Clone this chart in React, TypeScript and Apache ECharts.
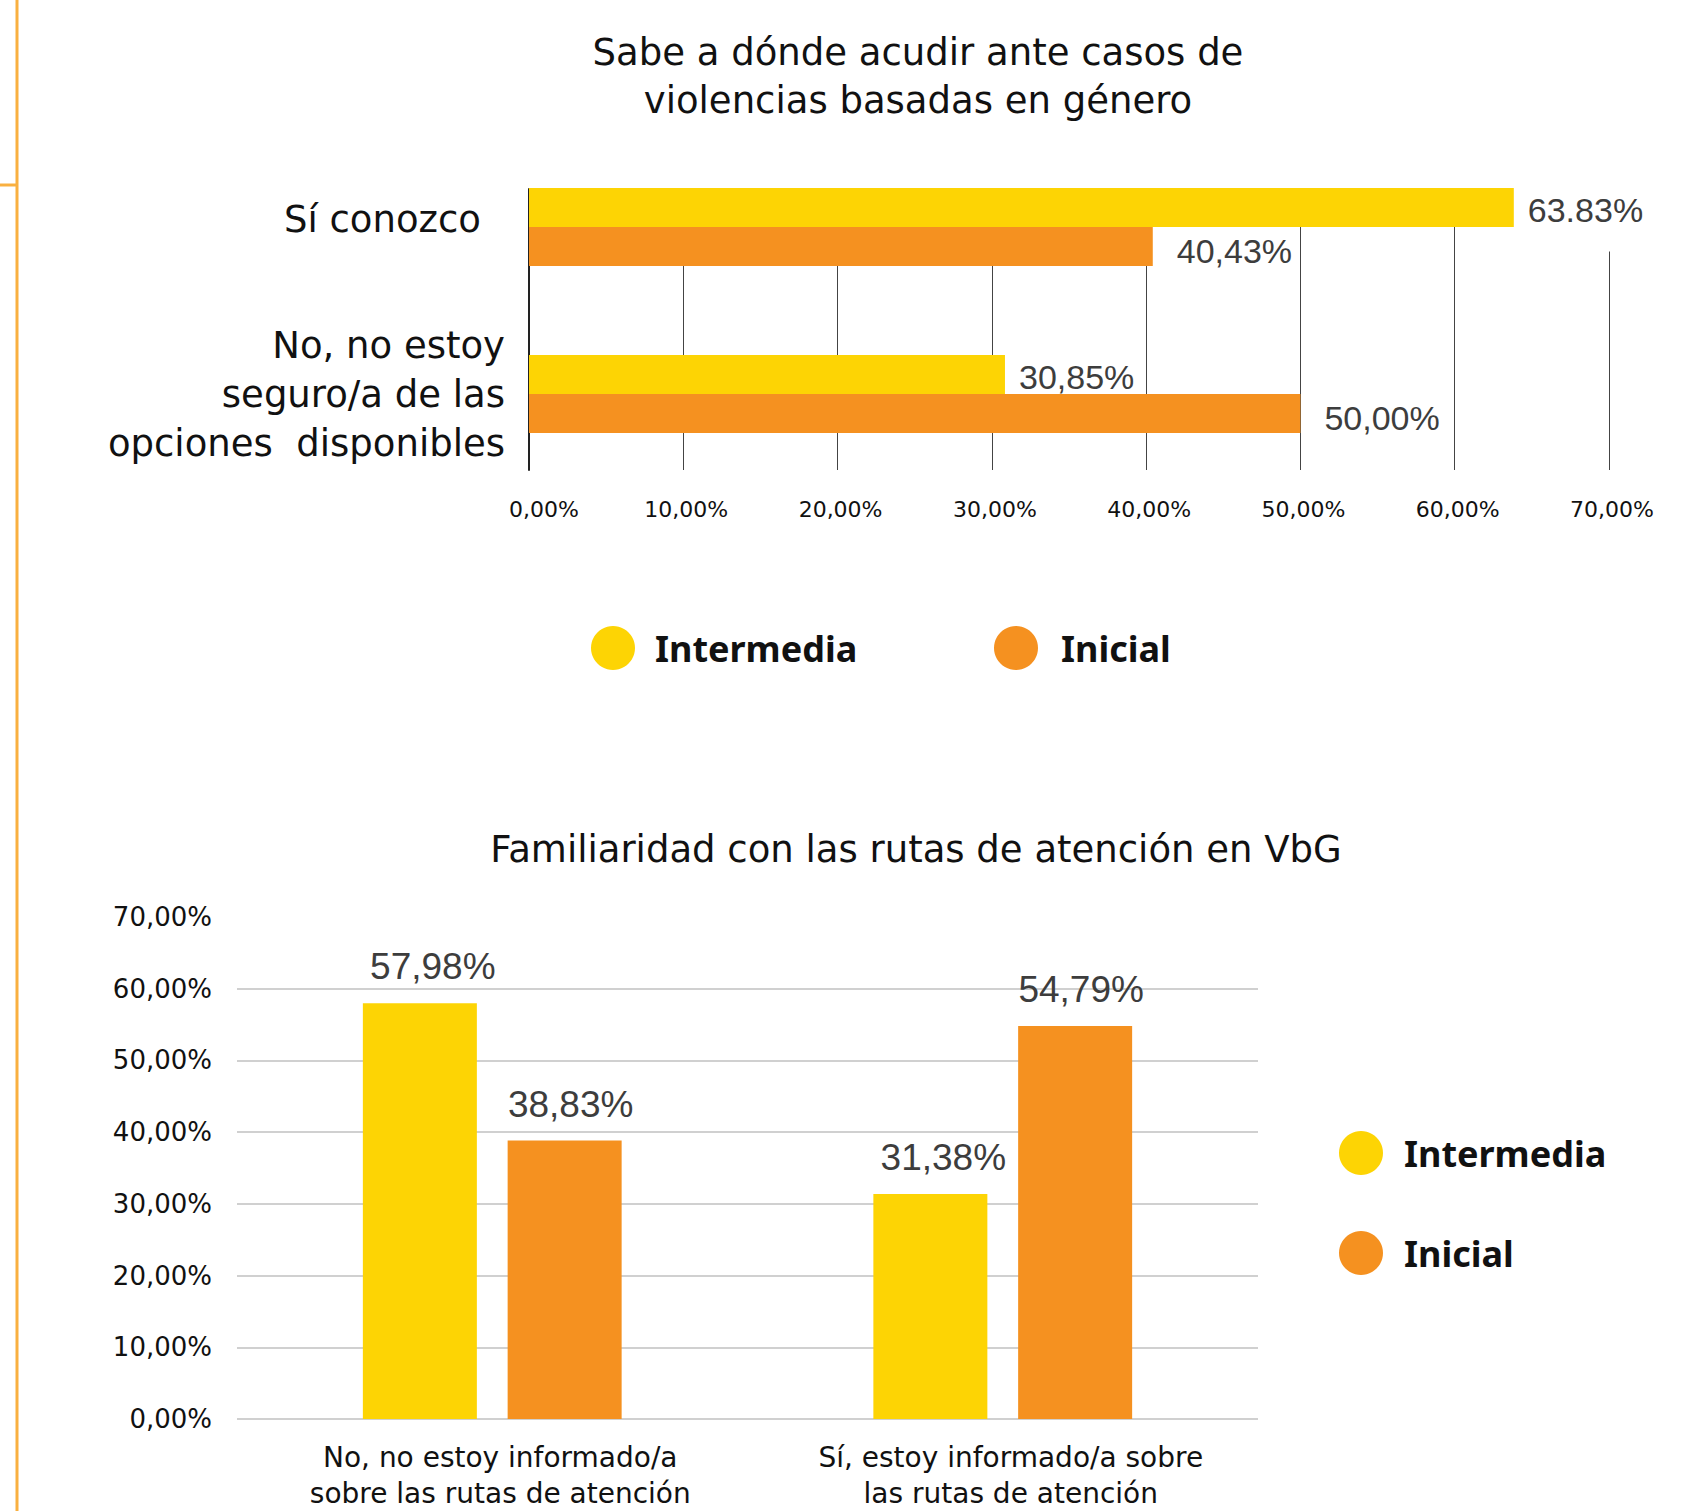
import React, { useEffect, useRef } from "react";
import * as echarts from "echarts";

const seriesNames = ["Intermedia", "Inicial"];

const title1 = "Sabe a dónde acudir ante casos de\nviolencias basadas en género";
const title2 = "Familiaridad con las rutas de atención en VbG";

const c1Categories = ["Sí conozco", "No, no estoy\nseguro/a de las\nopciones  disponibles"];
const c1Intermedia = [63.83, 30.85];
const c1Inicial = [40.43, 50.0];
const c1IntermediaLabels = ["63.83%", "30,85%"];
const c1InicialLabels = ["40,43%", "50,00%"];

const c2Categories = [
  "No, no estoy informado/a\nsobre las rutas de atención",
  "Sí, estoy informado/a sobre\nlas rutas de atención",
];
const c2Intermedia = [57.98, 31.38];
const c2Inicial = [38.83, 54.79];

const axisMin = 0;
const axisMax = 70;
const axisStep = 10;

const YELLOW = "#FDD404";
const ORANGE = "#F59120";
const FONT = "'DejaVu Sans', sans-serif";
const BOLD_FONT = "'Noto Sans', sans-serif";
const VALUE_FONT = "'Liberation Sans', Arial, sans-serif";

const pct = (v: number) => v.toFixed(2).replace(".", ",") + "%";

export default function App() {
  const ref = useRef<HTMLDivElement>(null);

  useEffect(() => {
    if (!ref.current) return;
    const chart = echarts.init(ref.current, undefined, { renderer: "svg" });

    const legendText = { fontSize: 36, fontWeight: "bold", color: "#111", fontFamily: BOLD_FONT };

    const option: any = {
      animation: false,
      backgroundColor: "#ffffff",
      textStyle: { fontFamily: FONT },
      graphic: [
        { type: "line", shape: { x1: 17, y1: 0, x2: 17, y2: 1511 }, style: { stroke: "#F9B040", lineWidth: 3 } },
        { type: "line", shape: { x1: 0, y1: 185, x2: 17, y2: 185 }, style: { stroke: "#F9B040", lineWidth: 3 } },
        {
          type: "text",
          x: 918,
          y: 76,
          style: {
            text: title1,
            fontSize: 37,
            lineHeight: 48,
            fontFamily: FONT,
            fill: "#111111",
            textAlign: "center",
            textVerticalAlign: "middle",
          },
        },
        {
          type: "text",
          x: 916,
          y: 849,
          style: {
            text: title2,
            fontSize: 37,
            fontFamily: FONT,
            fill: "#111111",
            textAlign: "center",
            textVerticalAlign: "middle",
          },
        },
      ],
      legend: [
        {
          data: [seriesNames[0]],
          left: 591,
          top: 626,
          padding: 0,
          icon: "circle",
          itemWidth: 44,
          itemHeight: 44,
          selectedMode: false,
          textStyle: { ...legendText, padding: [0, 0, 0, 15] },
        },
        {
          data: [seriesNames[1]],
          left: 994,
          top: 626,
          padding: 0,
          icon: "circle",
          itemWidth: 44,
          itemHeight: 44,
          selectedMode: false,
          textStyle: { ...legendText, padding: [0, 0, 0, 18] },
        },
        {
          data: seriesNames,
          orient: "vertical",
          left: 1339,
          top: 1131,
          padding: 0,
          itemGap: 56,
          icon: "circle",
          itemWidth: 44,
          itemHeight: 44,
          selectedMode: false,
          textStyle: { ...legendText, padding: [0, 0, 0, 16] },
        },
      ],
      grid: [
        { left: 529, width: 1080, top: 189, height: 281 },
        { left: 529, width: 1080, top: 143.5, height: 334 },
        { left: 237, width: 1021, top: 917, height: 502 },
      ],
      xAxis: [
        {
          gridIndex: 0,
          type: "value",
          min: axisMin,
          max: axisMax,
          interval: axisStep,
          axisLine: { show: false },
          axisTick: { show: false },
          splitLine: { show: true, lineStyle: { color: "#444444", width: 1 } },
          axisLabel: {
            fontSize: 22,
            margin: 28,
            color: "#111",
            fontFamily: FONT,
            padding: [0, 0, 0, 6],
            formatter: (v: number) => (v === axisMin ? `{m|${pct(v)}}` : pct(v)),
            rich: { m: { fontSize: 22, fontFamily: FONT, color: "#111", padding: [0, 0, 0, 24] } },
          },
        },
        { gridIndex: 1, type: "value", min: axisMin, max: axisMax, show: false },
        {
          gridIndex: 2,
          type: "category",
          data: c2Categories,
          axisLine: { show: false },
          axisTick: { show: false },
          axisLabel: {
            fontSize: 28,
            lineHeight: 36,
            margin: 20,
            color: "#111",
            fontFamily: FONT,
            padding: [0, 0, 0, 16],
          },
        },
      ],
      yAxis: [
        {
          gridIndex: 0,
          type: "category",
          data: ["", ""],
          axisLine: { show: true, lineStyle: { color: "#222222", width: 2 } },
          axisTick: { show: false },
          axisLabel: { show: false },
          splitLine: { show: false },
        },
        {
          gridIndex: 1,
          type: "category",
          inverse: true,
          data: c1Categories.map((c, i) =>
            i === 0 ? { value: c, textStyle: { padding: [0, 24, 0, 0] } } : { value: c }
          ),
          axisLine: { show: false },
          axisTick: { show: false },
          axisLabel: {
            fontSize: 37,
            lineHeight: 49,
            margin: 24,
            color: "#111",
            align: "right",
            fontFamily: FONT,
            formatter: (v: string, i: number) => (i === 0 ? `${v}\n{s|}` : v),
            rich: { s: { lineHeight: 16, fontSize: 10 } },
          },
        },
        {
          gridIndex: 2,
          type: "value",
          min: axisMin,
          max: axisMax,
          interval: axisStep,
          axisLine: { show: false },
          axisTick: { show: false },
          splitLine: { show: true, showMaxLine: false, lineStyle: { color: "#D0D0D0", width: 2 } },
          axisLabel: { fontSize: 26, margin: 25, color: "#111", fontFamily: FONT, formatter: (v: number) => pct(v) },
        },
      ],
      series: [
        {
          name: seriesNames[0],
          type: "bar",
          xAxisIndex: 1,
          yAxisIndex: 1,
          barWidth: 39,
          barGap: "0%",
          itemStyle: { color: YELLOW },
          data: c1Intermedia.map((v, i) =>
            i === 0
              ? { value: v, label: { backgroundColor: "#ffffff", padding: [25, 0, 25, 0] } }
              : { value: v }
          ),
          label: {
            show: true,
            position: "right",
            distance: 14,
            offset: [0, 2],
            fontSize: 34,
            fontFamily: VALUE_FONT,
            color: "#3D3D3D",
            formatter: (p: any) => c1IntermediaLabels[p.dataIndex],
          },
        },
        {
          name: seriesNames[1],
          type: "bar",
          xAxisIndex: 1,
          yAxisIndex: 1,
          barWidth: 39,
          barGap: "0%",
          itemStyle: { color: ORANGE },
          data: c1Inicial,
          label: {
            show: true,
            position: "right",
            distance: 24,
            offset: [0, 4],
            fontSize: 34,
            fontFamily: VALUE_FONT,
            color: "#3D3D3D",
            formatter: (p: any) => c1InicialLabels[p.dataIndex],
          },
        },
        {
          name: seriesNames[0],
          type: "bar",
          xAxisIndex: 2,
          yAxisIndex: 2,
          barWidth: 114,
          barGap: "27%",
          itemStyle: { color: YELLOW },
          data: c2Intermedia,
          label: {
            show: true,
            position: "top",
            distance: 18,
            offset: [13, 0],
            fontSize: 37,
            lineHeight: 37,
            fontFamily: VALUE_FONT,
            color: "#3D3D3D",
            formatter: (p: any) => pct(p.value),
          },
        },
        {
          name: seriesNames[1],
          type: "bar",
          xAxisIndex: 2,
          yAxisIndex: 2,
          barWidth: 114,
          barGap: "27%",
          itemStyle: { color: ORANGE },
          data: c2Inicial,
          label: {
            show: true,
            position: "top",
            distance: 18,
            offset: [6, 0],
            fontSize: 37,
            lineHeight: 37,
            fontFamily: VALUE_FONT,
            color: "#3D3D3D",
            formatter: (p: any) => pct(p.value),
          },
        },
      ],
    };

    chart.setOption(option);
    return () => chart.dispose();
  }, []);

  return (
    <div
      ref={ref}
      style={{ position: "absolute", left: 0, top: 0, width: 1695, height: 1511, background: "#fff" }}
    />
  );
}
